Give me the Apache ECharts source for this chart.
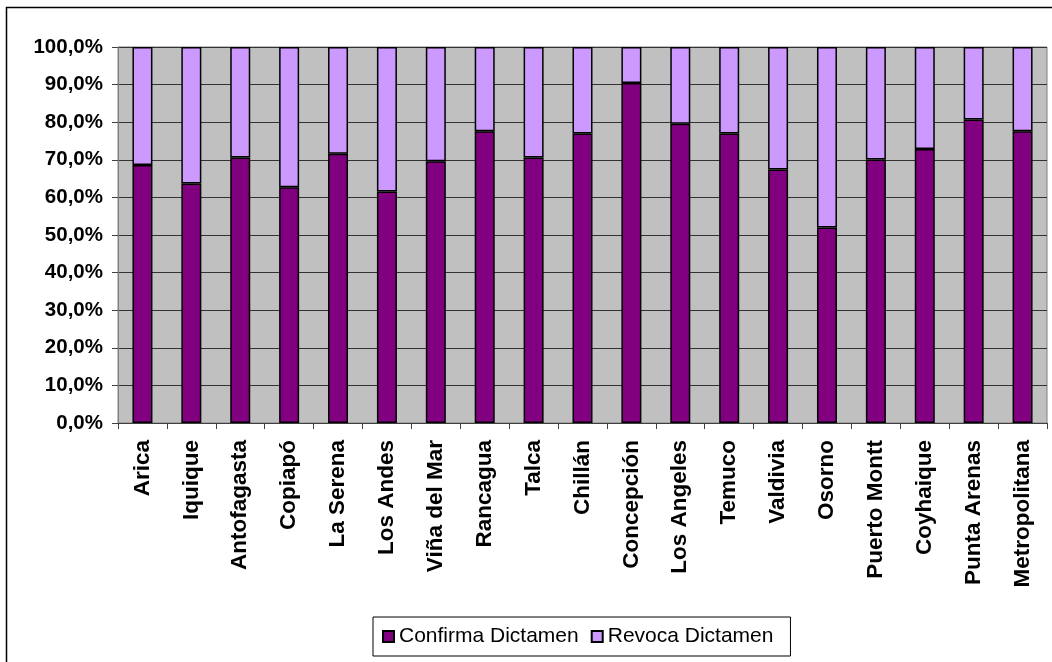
<!DOCTYPE html>
<html>
<head>
<meta charset="utf-8">
<script src="https://cdn.jsdelivr.net/npm/echarts@6/dist/echarts.min.js"></script>
<style>
  html, body { margin: 0; padding: 0; background: #fff; }
  #main { width: 1052px; height: 662px; }
</style>
</head>
<body>
<div id="main"></div>
<script>
// ciudades
var ciudades = ['Arica', 'Iquique', 'Antofagasta', 'Copiapó', 'La Serena', 'Los Andes', 'Viña del Mar',
    'Rancagua', 'Talca', 'Chillán', 'Concepción', 'Los Angeles', 'Temuco', 'Valdivia', 'Osorno',
    'Puerto Montt', 'Coyhaique', 'Punta Arenas', 'Metropolitana'];
// porcentajes
var confirma = [68.6, 63.7, 70.6, 62.7, 71.6, 61.6, 69.6, 77.6, 70.6, 77.0, 90.4, 79.6, 77.0, 67.4, 52.0, 70.1, 72.9, 80.7, 77.6];
var revoca = [31.4, 36.3, 29.4, 37.3, 28.4, 38.4, 30.4, 22.4, 29.4, 23.0, 9.6, 20.4, 23.0, 32.6, 48.0, 29.9, 27.1, 19.3, 22.4];
var nombres = ['Confirma Dictamen', 'Revoca Dictamen'];

var fuente = 'Arial, "Liberation Sans", sans-serif';
var myChart = echarts.init(document.getElementById('main'));

var option = {
    animation: false,
    backgroundColor: '#fff',
    graphic: [{
        type: 'rect',
        shape: { x: 6.5, y: 7.5, width: 1100, height: 700 },
        style: { fill: 'none', stroke: '#000', lineWidth: 1.5 },
        silent: true
    }],
    legend: {
        data: nombres,
        icon: 'rect',
        left: 373,
        top: 617,
        padding: [9, 17, 9, 9],
        itemWidth: 11,
        itemHeight: 11,
        itemGap: 12,
        borderColor: '#000',
        borderWidth: 1,
        textStyle: { fontFamily: fuente, fontSize: 21, color: '#000' }
    },
    grid: {
        left: 118,
        right: 5,
        top: 47,
        bottom: 239,
        show: true,
        backgroundColor: '#C0C0C0',
        borderColor: '#808080',
        borderWidth: 1
    },
    xAxis: {
        type: 'category',
        data: ciudades,
        axisLine: { lineStyle: { color: '#404040', width: 1 } },
        axisTick: { show: true, length: 6, lineStyle: { color: '#404040' } },
        axisLabel: {
            rotate: 90,
            margin: 17,
            interval: 0,
            fontFamily: fuente,
            fontSize: 22.5,
            fontWeight: 'bold',
            color: '#000'
        }
    },
    yAxis: {
        type: 'value',
        min: 0,
        max: 100,
        interval: 10,
        axisLine: { show: true, lineStyle: { color: '#808080' } },
        axisTick: { show: true, length: 6, lineStyle: { color: '#404040' } },
        splitLine: { lineStyle: { color: '#333', width: 1 } },
        axisLabel: {
            margin: 15,
            fontFamily: fuente,
            fontSize: 20.5,
            fontWeight: 'bold',
            color: '#000',
            formatter: function (v) { return v.toFixed(1).replace('.', ',') + '%'; }
        }
    },
    series: [
        {
            name: nombres[0],
            type: 'bar',
            stack: 'total',
            barWidth: 20,
            data: confirma,
            itemStyle: { color: '#800080', borderColor: '#000', borderWidth: 1.5 }
        },
        {
            name: nombres[1],
            type: 'bar',
            stack: 'total',
            barWidth: 20,
            data: revoca,
            itemStyle: { color: '#CC99FF', borderColor: '#000', borderWidth: 1.5 }
        }
    ]
};

myChart.setOption(option);
</script>
</body>
</html>
